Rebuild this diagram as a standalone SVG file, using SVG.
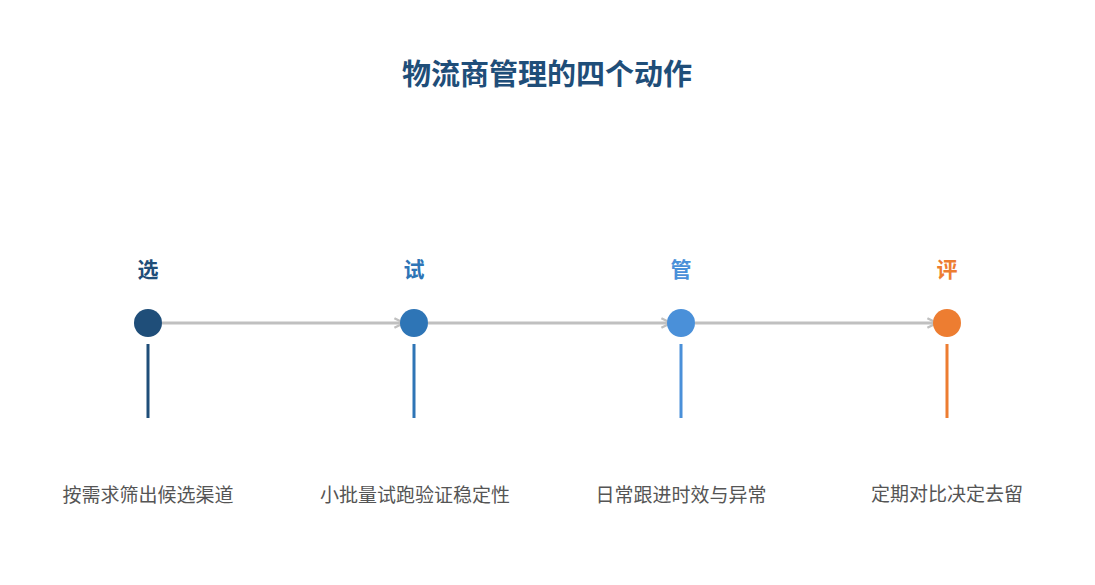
<svg xmlns="http://www.w3.org/2000/svg" width="1095" height="585" viewBox="0 0 1095 585">
<style>
text{font-family:"Noto Sans CJK SC","Noto Sans",sans-serif;text-anchor:middle}
.title{font-size:29px;font-weight:bold;fill:#1f4e79}
.lbl{font-size:21px;font-weight:bold}
.desc{font-size:19px;fill:#555555}
.conn{stroke:#c0c0c0;stroke-width:3;fill:none}
</style>
<defs>
<marker id="arr" viewBox="0 0 10 10" refX="9" refY="5" markerWidth="4" markerHeight="4" orient="auto" markerUnits="strokeWidth">
<path d="M1,1 L9,5 L1,9" fill="none" stroke="#c0c0c0" stroke-width="2"/>
</marker>
</defs>
<rect width="1095" height="585" fill="#ffffff"/>
<text class="title" x="547" y="85">物流商管理的四个动作</text>
<g id="connectors">
<line class="conn" x1="162" y1="323" x2="404" y2="323" marker-end="url(#arr)"/>
<line class="conn" x1="428" y1="323" x2="671" y2="323" marker-end="url(#arr)"/>
<line class="conn" x1="695" y1="323" x2="937" y2="323" marker-end="url(#arr)"/>
</g>
<g id="node-xuan">
<text class="lbl" x="148" y="277" fill="#1f4e79">选</text>
<circle cx="148" cy="323" r="14" fill="#1f4e79"/>
<rect x="146.5" y="344" width="3" height="74" fill="#1f4e79"/>
<text class="desc" x="148" y="502">按需求筛出候选渠道</text>
</g>
<g id="node-shi">
<text class="lbl" x="414" y="277" fill="#2e75b6">试</text>
<circle cx="414" cy="323" r="14" fill="#2e75b6"/>
<rect x="412.5" y="344" width="3" height="74" fill="#2e75b6"/>
<text class="desc" x="415" y="502">小批量试跑验证稳定性</text>
</g>
<g id="node-guan">
<text class="lbl" x="681" y="277" fill="#4a90d9">管</text>
<circle cx="681" cy="323" r="14" fill="#4a90d9"/>
<rect x="679.5" y="344" width="3" height="74" fill="#4a90d9"/>
<text class="desc" x="681" y="502">日常跟进时效与异常</text>
</g>
<g id="node-ping">
<text class="lbl" x="947" y="277" fill="#ed7d31">评</text>
<circle cx="947" cy="323" r="14" fill="#ed7d31"/>
<rect x="945.5" y="344" width="3" height="74" fill="#ed7d31"/>
<text class="desc" x="947" y="501">定期对比决定去留</text>
</g>
</svg>
